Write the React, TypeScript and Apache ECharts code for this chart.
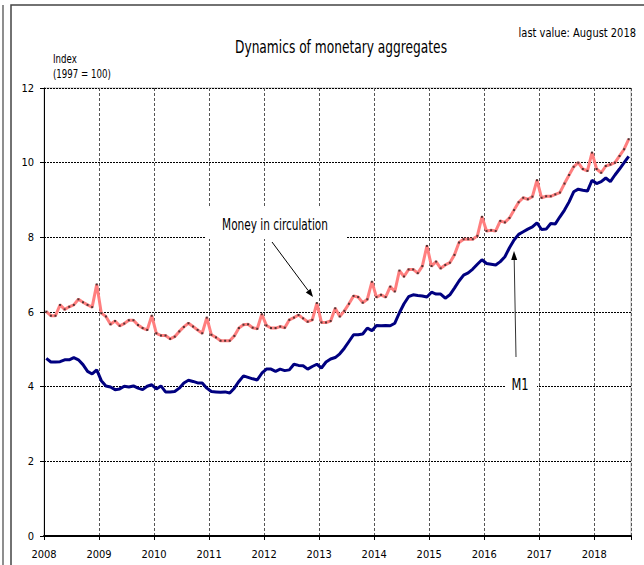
import React, { useEffect, useRef } from "react";
import * as echarts from "echarts";

const START_YEAR = 2008;
const END_X = 2018 + 8 / 12; // last value: August 2018
const xYears = [2008, 2009, 2010, 2011, 2012, 2013, 2014, 2015, 2016, 2017, 2018];
const yTicks = [0, 2, 4, 6, 8, 10, 12];

// Monthly index values (1997 = 100), Jan 2008 .. Aug 2018
const circulation = [
  6.01, 5.9, 5.9, 6.19, 6.07, 6.14, 6.19, 6.34, 6.26, 6.19, 6.13, 6.74,
  5.97, 5.88, 5.67, 5.76, 5.63, 5.69, 5.78, 5.78, 5.65, 5.57, 5.52, 5.9,
  5.43, 5.37, 5.37, 5.28, 5.34, 5.48, 5.6, 5.7, 5.61, 5.52, 5.43, 5.85,
  5.39, 5.32, 5.23, 5.23, 5.23, 5.36, 5.57, 5.66, 5.67, 5.58, 5.55, 5.94,
  5.64, 5.57, 5.57, 5.61, 5.58, 5.79, 5.85, 5.92, 5.83, 5.74, 5.79, 6.24,
  5.72, 5.72, 5.76, 6.1, 5.88, 6.03, 6.22, 6.43, 6.4, 6.25, 6.34, 6.81,
  6.4, 6.46, 6.4, 6.68, 6.55, 7.11, 6.95, 7.14, 7.14, 7.04, 7.23, 7.77,
  7.23, 7.35, 7.17, 7.26, 7.32, 7.53, 7.86, 7.95, 7.95, 7.95, 8.04, 8.55,
  8.17, 8.19, 8.17, 8.44, 8.4, 8.52, 8.73, 8.94, 9.06, 9.02, 9.09, 9.53,
  9.06, 9.1, 9.1, 9.15, 9.2, 9.44, 9.67, 9.89, 10.0, 9.83, 9.78, 10.27,
  9.83, 9.73, 9.91, 9.95, 10.0, 10.18, 10.36, 10.63,
];

const m1 = [
  4.76, 4.66, 4.66, 4.67, 4.72, 4.72, 4.78, 4.72, 4.59, 4.41, 4.34, 4.45,
  4.16, 4.02, 3.99, 3.92, 3.94, 4.01, 3.99, 4.02, 3.96, 3.92, 4.01, 4.05,
  3.94, 4.02, 3.86, 3.86, 3.87, 3.96, 4.1, 4.17, 4.14, 4.1, 4.1, 3.96,
  3.87, 3.86, 3.85, 3.86, 3.83, 3.96, 4.14, 4.29, 4.25, 4.21, 4.18, 4.36,
  4.47, 4.47, 4.41, 4.47, 4.43, 4.45, 4.6, 4.57, 4.56, 4.47, 4.54, 4.6,
  4.5, 4.66, 4.74, 4.78, 4.88, 5.03, 5.21, 5.39, 5.39, 5.41, 5.57, 5.5,
  5.64, 5.63, 5.64, 5.63, 5.7, 5.98, 6.22, 6.41, 6.46, 6.44, 6.43, 6.4,
  6.53, 6.48, 6.48, 6.37, 6.46, 6.64, 6.83, 6.99, 7.05, 7.15, 7.28, 7.4,
  7.3, 7.28, 7.26, 7.35, 7.48, 7.72, 7.93, 8.08, 8.15, 8.22, 8.28, 8.39,
  8.21, 8.22, 8.37, 8.36, 8.55, 8.73, 8.95, 9.22, 9.29, 9.26, 9.24, 9.53,
  9.44, 9.49, 9.59, 9.49, 9.67, 9.83, 10.0, 10.17,
];

const FONT = '"DejaVu Sans Condensed", "Liberation Sans Narrow", "Arial Narrow", sans-serif';

function toPairs(arr: number[]) {
  return arr.map((v, i) => [START_YEAR + (i + 0.5) / 12, v]);
}

function label(text: string, x: number, y: number, size: number, sx: number, align: string) {
  return {
    type: "text",
    z: 101,
    x,
    y,
    scaleX: sx,
    style: { text, font: `${size}px ${FONT}`, fill: "#000", align, verticalAlign: "middle" },
  };
}

export default function App() {
  const ref = useRef<HTMLDivElement>(null);

  useEffect(() => {
    document.body.style.margin = "0";
    const chart = echarts.init(ref.current!, null, { renderer: "svg" });
    chart.setOption({
      animation: false,
      backgroundColor: "#ffffff",
      grid: {
        left: 44,
        right: 13,
        top: 88,
        bottom: 29,
        show: true,
        borderColor: "#bbbbbb",
        borderWidth: 1,
      },
      xAxis: {
        type: "value",
        min: xYears[0],
        max: END_X,
        interval: 1,
        axisLine: { show: true, lineStyle: { color: "#000", width: 2 } },
        axisTick: { show: true, length: 4, lineStyle: { color: "#000" } },
        axisLabel: {
          formatter: (v: number) => (xYears.includes(Math.round(v * 1000) / 1000) ? String(v) : ""),
          fontFamily: FONT,
          fontSize: 11,
          color: "#000",
          margin: 13,
        },
        splitLine: { show: true, lineStyle: { color: "#555", type: [3, 2], width: 1 } },
      },
      yAxis: {
        type: "value",
        min: yTicks[0],
        max: yTicks[yTicks.length - 1],
        interval: 2,
        axisLine: { show: true, lineStyle: { color: "#000", width: 1 } },
        axisTick: { show: true, length: 4, lineStyle: { color: "#000" } },
        axisLabel: { fontFamily: FONT, fontSize: 11, color: "#000", margin: 10 },
        splitLine: { show: true, lineStyle: { color: "#000", type: [2, 1], width: 1 } },
      },
      series: [
        {
          type: "line",
          name: "M1",
          data: toPairs(m1),
          symbol: "none",
          lineStyle: { color: "#000080", width: 3 },
          z: 3,
        },
        {
          type: "line",
          name: "Money in circulation",
          data: toPairs(circulation),
          symbol: "rect",
          symbolSize: 2,
          showSymbol: true,
          itemStyle: { color: "#553333" },
          lineStyle: { color: "#ff7f7f", width: 3 },
          z: 4,
        },
      ],
      graphic: [
        // frame
        {
          type: "polyline",
          z: 100,
          shape: { points: [[11, 565], [11, 5], [644, 5]] },
          style: { stroke: "#444", lineWidth: 1.5, fill: null },
        },
        {
          type: "line",
          z: 100,
          shape: { x1: 3, y1: 5, x2: 3, y2: 565 },
          style: { stroke: "#444", lineWidth: 1.2 },
        },
        // titles
        label("Dynamics of monetary aggregates", 341, 47, 17, 0.8, "center"),
        label("last value: August 2018", 636, 33, 12.5, 0.88, "right"),
        label("Index", 53, 59, 12, 0.8, "left"),
        label("(1997 = 100)", 53, 74, 12, 0.8, "left"),
        // Money in circulation label
        {
          type: "rect",
          z: 100,
          shape: { x: 205, y: 208, width: 141, height: 31 },
          style: { fill: "#fff" },
        },
        label("Money in circulation", 275, 225, 15, 0.78, "center"),
        {
          type: "line",
          z: 101,
          shape: { x1: 272, y1: 242, x2: 308.2, y2: 290.6 },
          style: { stroke: "#000", lineWidth: 1 },
        },
        {
          type: "polygon",
          z: 101,
          shape: { points: [[313, 297], [305.8, 292.4], [310.6, 288.8]] },
          style: { fill: "#000" },
        },
        // M1 label
        {
          type: "rect",
          z: 100,
          shape: { x: 505, y: 372, width: 32, height: 26 },
          style: { fill: "#fff" },
        },
        label("M1", 520, 385, 15, 0.85, "center"),
        {
          type: "line",
          z: 101,
          shape: { x1: 516, y1: 357, x2: 514.2, y2: 259 },
          style: { stroke: "#333", lineWidth: 1 },
        },
        {
          type: "polygon",
          z: 101,
          shape: { points: [[514, 251], [517.2, 260], [511.2, 260]] },
          style: { fill: "#000" },
        },
      ],
    });
    return () => chart.dispose();
  }, []);

  return (
    <div
      ref={ref}
      style={{ position: "absolute", left: 0, top: 0, width: 644, height: 565, background: "#fff" }}
    />
  );
}
